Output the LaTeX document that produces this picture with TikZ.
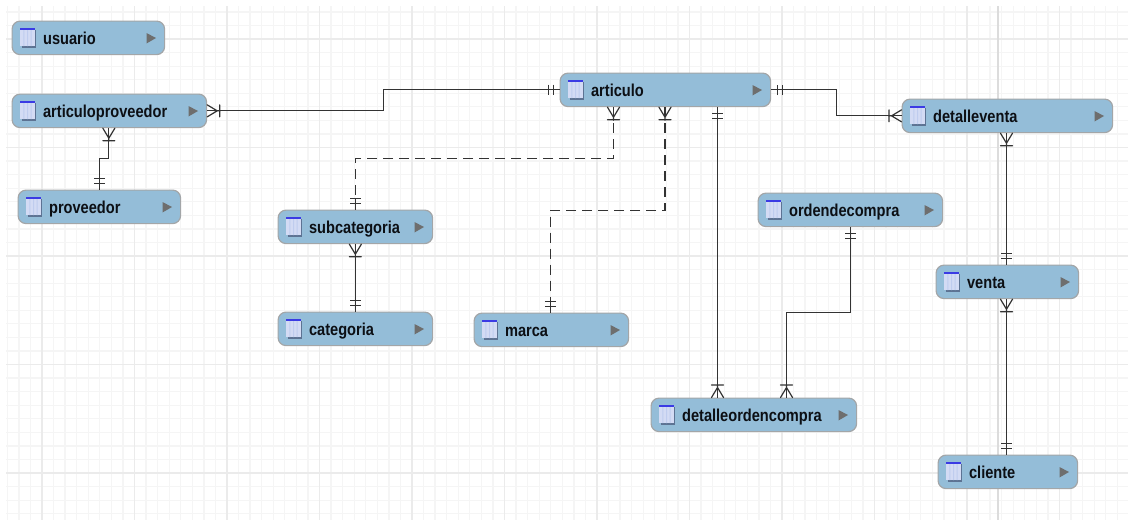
\documentclass[tikz,border=0pt]{standalone}
\usepackage{fontspec}
\setmainfont{Liberation Sans}
\usetikzlibrary{arrows.meta}
\definecolor{boxfill}{HTML}{94BDD8}
\definecolor{boxline}{HTML}{A3A6A8}
\definecolor{gridminor}{HTML}{F5F5F5}
\definecolor{gridmajor}{HTML}{EBEBEB}
\definecolor{pageline}{HTML}{DCDCDC}
\definecolor{conn}{HTML}{333333}
\definecolor{tri}{HTML}{6E6E6E}
\definecolor{iconshadow}{HTML}{5D7393}
\definecolor{iconbar}{HTML}{3B3BE4}
\definecolor{iconcol}{HTML}{BFCCEE}
\definecolor{iconfill}{HTML}{D3DBF4}
\definecolor{txt}{HTML}{0C0F14}
\pgfdeclarearrow{name=CrowMany,
  setup code={\pgfarrowssettipend{0pt}\pgfarrowssetlineend{0pt}\pgfarrowssetbackend{-14pt}},
  drawing code={\pgfsetdash{}{0pt}\pgfsetlinewidth{1.2pt}\pgfsetroundcap
    \pgfpathmoveto{\pgfqpoint{0pt}{6pt}}\pgfpathlineto{\pgfqpoint{-10pt}{0pt}}\pgfpathlineto{\pgfqpoint{0pt}{-6pt}}
    \pgfpathmoveto{\pgfqpoint{-12.5pt}{6pt}}\pgfpathlineto{\pgfqpoint{-12.5pt}{-6pt}}
    \pgfpathmoveto{\pgfqpoint{-8pt}{0pt}}\pgfpathlineto{\pgfqpoint{-13pt}{0pt}}
    \pgfusepathqstroke}}
\pgfdeclarearrow{name=CrowOne,
  setup code={\pgfarrowssettipend{0pt}\pgfarrowssetlineend{0pt}\pgfarrowssetbackend{-13pt}},
  drawing code={\pgfsetdash{}{0pt}\pgfsetlinewidth{1.2pt}
    \pgfpathmoveto{\pgfqpoint{-6pt}{5.2pt}}\pgfpathlineto{\pgfqpoint{-6pt}{-5.2pt}}
    \pgfpathmoveto{\pgfqpoint{-11pt}{5.2pt}}\pgfpathlineto{\pgfqpoint{-11pt}{-5.2pt}}
    \pgfpathmoveto{\pgfqpoint{0pt}{0pt}}\pgfpathlineto{\pgfqpoint{-12pt}{0pt}}
    \pgfusepathqstroke}}
\tikzset{
  erbox/.style={draw=boxline,line width=1.2pt,fill=boxfill,rounded corners=8pt,
    minimum height=33.5pt,inner xsep=0pt,inner ysep=0pt,align=left,anchor=north west,
    text=txt,font=\fontsize{14.6pt}{16pt}\selectfont\bfseries},
  rel/.style={draw=conn,line width=1.2pt},
  reldash/.style={rel,dash pattern=on 10pt off 6pt},
}
\newcommand{\erbox}[6]{%
  \pgfmathsetmacro{\boxw}{#4-#2-0.5}%
  \node[erbox,minimum width=\boxw pt,text width=\boxw pt] (#1) at (#2-0.5,#3-0.5)
    {\hspace*{31pt}\raisebox{-7pt}[0pt][0pt]{\scalebox{1}[1.18]{#6}}};
  \begin{scope}[shift={(#2,#3)}]
    \fill[iconshadow] (9.5,8.5) rectangle (24,26.5);
    \fill[iconfill] (8,7) rectangle (22.5,25);
    \fill[iconcol] (11.3,9) rectangle (12.3,25) (15,9) rectangle (16,25) (18.7,9) rectangle (19.7,25);
    \fill[iconbar] (8,7) rectangle (22.5,8.6);
  \end{scope}
  \fill[tri] (#4-18.5,#3+12) -- (#4-9,#3+17) -- (#4-18.5,#3+22.5) -- cycle;
}
\begin{document}
\begin{tikzpicture}[x=1pt,y=-1pt]
\useasboundingbox (0,0) rectangle (1128,520);
\fill[white] (0,0) rectangle (1128,520);
% grid
\foreach \i in {0,...,97} {
  \pgfmathsetmacro{\gx}{7.3+11.5625*\i}
  \ifdim\gx pt<1128pt \draw[gridminor,line width=1.3pt] (\gx,6) -- (\gx,520); \fi
}
\foreach \i in {0,...,37} {
  \pgfmathsetmacro{\gy}{11.9+13.5625*\i}
  \ifdim\gy pt<520pt \draw[gridminor,line width=1.3pt] (6,\gy) -- (1128,\gy); \fi
}
\foreach \i in {0,...,11} {
  \pgfmathsetmacro{\gx}{42+92.5*\i}
  \draw[gridmajor,line width=1.5pt] (\gx,6) -- (\gx,520);
}
\foreach \i in {0,...,4} {
  \pgfmathsetmacro{\gy}{39+108.5*\i}
  \draw[gridmajor,line width=1.5pt] (6,\gy) -- (1128,\gy);
}
\draw[pageline,line width=1.2pt] (998,6) -- (998,520);
% entities
\erbox{usuario}{12}{21}{165}{55}{usuario}
\erbox{artprov}{12}{94}{207}{128}{articuloproveedor}
\erbox{prov}{18}{190}{181}{224}{proveedor}
\erbox{subcat}{278}{210}{433}{244}{subcategoria}
\erbox{cat}{278}{312}{433}{346}{categoria}
\erbox{marca}{474}{313}{629}{347}{marca}
\erbox{artic}{560}{73}{771}{107}{articulo}
\erbox{detventa}{902}{99}{1113}{133}{detalleventa}
\erbox{orden}{758}{193}{943}{227}{ordendecompra}
\erbox{venta}{936}{265}{1079}{299}{venta}
\erbox{detorden}{651}{398}{857}{432}{detalleordencompra}
\erbox{cliente}{938}{455}{1078}{489}{cliente}
% connectors
\draw[rel,{CrowMany}-{CrowOne}] (artprov.east) -- ++(176,0) |- (artic.west);
\draw[rel,{CrowMany}-{CrowOne}] ([xshift=-0.5pt]artprov.south) -- ++(0,30) -| (prov.north);
\draw[reldash,{CrowMany}-{CrowOne}] ([xshift=54pt]artic.south west) -- ++(0,51.5) -| (subcat.north);
\draw[reldash,{CrowMany}-{CrowOne}] ([xshift=105.5pt]artic.south west) -- ++(0,103) -| ([xshift=77pt]marca.north west);
\draw[rel,{CrowOne}-{CrowMany}] ([xshift=158pt]artic.south west) -- ([xshift=67pt]detorden.north west);
\draw[rel,{CrowOne}-{CrowMany}] (artic.east) -- ++(65,0) |- (detventa.west);
\draw[rel,{CrowMany}-{CrowOne}] ([xshift=105pt]detventa.south west) -- ([xshift=71pt]venta.north west);
\draw[rel,{CrowMany}-{CrowOne}] ([xshift=71pt]venta.south west) -- ([xshift=69pt]cliente.north west);
\draw[rel,{CrowOne}-{CrowMany}] ([xshift=93pt]orden.south west) -- ++(0,85) -| ([xshift=136pt]detorden.north west);
\draw[rel,{CrowMany}-{CrowOne}] (subcat.south) -- (cat.north);
\end{tikzpicture}
\end{document}
